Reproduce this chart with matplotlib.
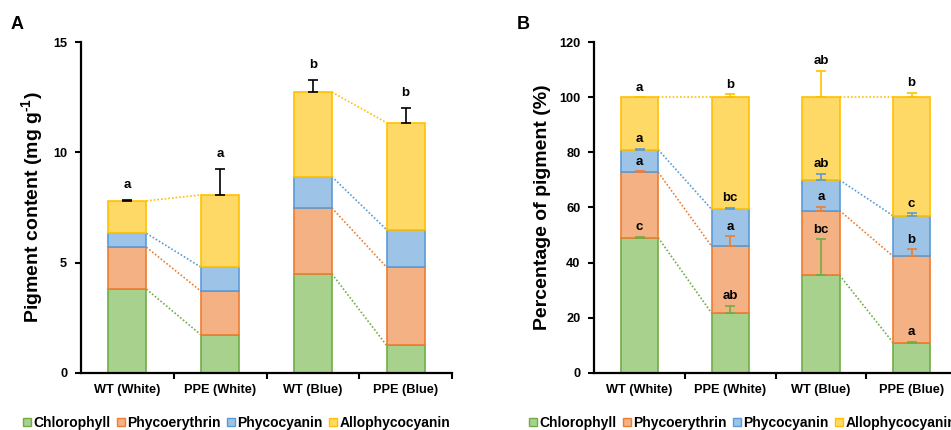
import matplotlib
matplotlib.use("Agg")
import matplotlib.pyplot as plt
from matplotlib.patches import Patch
import numpy as np

plt.rcParams['font.family'] = ['Liberation Sans', 'DejaVu Sans']
plt.rcParams['font.weight'] = 'bold'
plt.rcParams['mathtext.fontset'] = 'custom'
plt.rcParams['mathtext.rm'] = 'Liberation Sans:bold'
plt.rcParams['mathtext.bf'] = 'Liberation Sans:bold'
plt.rcParams['mathtext.default'] = 'bf'

categories = ["WT (White)", "PPE (White)", "WT (Blue)", "PPE (Blue)"]
pigments = ["Chlorophyll", "Phycoerythrin", "Phycocyanin", "Allophycocyanin"]
face_colors = ["#a9d18e", "#f4b183", "#9dc3e6", "#ffd966"]
edge_colors = ["#70ad47", "#ed7d31", "#5b9bd5", "#ffc000"]

# Panel A: pigment content (mg g-1), stacked segments
a_chl = [3.80, 1.72, 4.49, 1.25]
a_pe = [1.90, 1.98, 2.99, 3.54]
a_pc = [0.63, 1.09, 1.42, 1.70]
a_apc = [1.47, 3.28, 3.83, 4.85]
a_total_err = [0.02, 1.17, 0.55, 0.66]
a_letters = ["a", "a", "b", "b"]

# Panel B: percentage of pigment (%)
b_chl = [49.0, 21.6, 35.4, 10.9]
b_pe = [23.8, 24.3, 23.5, 31.4]
b_pc = [8.2, 13.4, 11.1, 14.7]
b_apc = [19.0, 40.7, 30.0, 43.0]
b_chl_err = [0.4, 2.6, 13.0, 0.2]
b_pe_err = [0.3, 3.6, 1.4, 2.5]
b_pc_err = [0.3, 0.6, 2.2, 0.9]
b_apc_err = [0.0, 1.1, 9.6, 1.7]
b_chl_let = ["c", "ab", "bc", "a"]
b_pe_let = ["a", "a", "a", "b"]
b_pc_let = ["a", "bc", "ab", "c"]
b_apc_let = ["a", "b", "ab", "b"]

fig = plt.figure(figsize=(9.51, 4.30), dpi=100)
axA = fig.add_axes([0.0852, 0.1326, 0.3901, 0.7697])
axB = fig.add_axes([0.6249, 0.1333, 0.3814, 0.7683])

x = np.arange(len(categories))
bw = 0.41
pairs = [(0, 1), (2, 3)]


def draw_stack(ax, segs):
    bottoms = np.zeros(len(categories))
    tops = []
    for seg, fc, ec in zip(segs, face_colors, edge_colors):
        seg = np.array(seg)
        ax.bar(x, seg, bw, bottom=bottoms, color=fc, edgecolor=ec, linewidth=1.2, zorder=2)
        bottoms = bottoms + seg
        tops.append(bottoms.copy())
    # connector dotted lines
    for top, ec in zip(tops, edge_colors):
        for i, j in pairs:
            ax.plot([x[i] + bw / 2, x[j] - bw / 2], [top[i], top[j]], linestyle=(0, (1, 1.2)),
                    color=ec, linewidth=1.2, zorder=1)
    return tops


def style_axis(ax, ymax, ystep):
    ax.set_xlim(-0.5, 3.5)
    ax.set_ylim(0, ymax)
    ax.set_yticks(np.arange(0, ymax + 0.001, ystep))
    ax.set_xticks(x)
    ax.set_xticklabels(categories, fontsize=9.2, fontweight='bold')
    ax.set_xticks([0.5, 1.5, 2.5, 3.5], minor=True)
    ax.tick_params(axis='x', which='major', length=0, pad=8)
    ax.tick_params(axis='x', which='minor', length=4, width=1.5, direction='out')
    ax.tick_params(axis='y', which='major', length=4, width=1.5, direction='out', labelsize=9.2, pad=6)
    for lab in ax.get_yticklabels():
        lab.set_fontweight('bold')
    for s in ['top', 'right']:
        ax.spines[s].set_visible(False)
    for s in ['left', 'bottom']:
        ax.spines[s].set_linewidth(1.6)


# Panel A
topsA = draw_stack(axA, [a_chl, a_pe, a_pc, a_apc])
totA = topsA[-1]
axA.errorbar(x, totA, yerr=[np.zeros(4), a_total_err], fmt='none', ecolor='black',
             elinewidth=1.2, capsize=3.6, capthick=1.2, zorder=3)
for i in range(4):
    axA.annotate(a_letters[i], (x[i], totA[i] + a_total_err[i]), xytext=(0, 11),
                 textcoords='offset points', ha='center', va='center', fontsize=9.5, fontweight='bold')
style_axis(axA, 15, 5)
axA.set_ylabel('Pigment content (mg g$^{\\text{-1}}$)', fontsize=14, fontweight='bold', labelpad=6)

# Panel B
topsB = draw_stack(axB, [b_chl, b_pe, b_pc, b_apc])
errsB = [b_chl_err, b_pe_err, b_pc_err, b_apc_err]
letsB = [b_chl_let, b_pe_let, b_pc_let, b_apc_let]
for top, err, lets, ec in zip(topsB, errsB, letsB, edge_colors):
    axB.errorbar(x, top, yerr=[np.zeros(4), err], fmt='none', ecolor=ec,
                 elinewidth=1.2, capsize=3.6, capthick=1.2, zorder=3)
    for i in range(4):
        axB.annotate(lets[i], (x[i], top[i] + err[i]), xytext=(0, 7),
                     textcoords='offset points', ha='center', va='center', fontsize=9.5, fontweight='bold')
style_axis(axB, 120, 20)
axB.set_ylabel('Percentage of pigment (%)', fontsize=14, fontweight='bold', labelpad=6)

# panel labels
fig.text(0.011, 0.943, 'A', fontsize=13, fontweight='bold', va='center', ha='left')
fig.text(0.543, 0.943, 'B', fontsize=13, fontweight='bold', va='center', ha='left')

# legends
handles = [Patch(facecolor=fc, edgecolor=ec, linewidth=1.0) for fc, ec in zip(face_colors, edge_colors)]
for cx in [0.249, 0.781]:
    fig.legend(handles, pigments, loc='center', bbox_to_anchor=(cx, 0.016), ncol=4, frameon=False,
               handlelength=0.55, handleheight=0.55, handletextpad=0.2,
               columnspacing=0.45, borderaxespad=0, borderpad=0,
               prop={'weight': 'bold', 'size': 10})

fig.savefig('out.png', dpi=100)
